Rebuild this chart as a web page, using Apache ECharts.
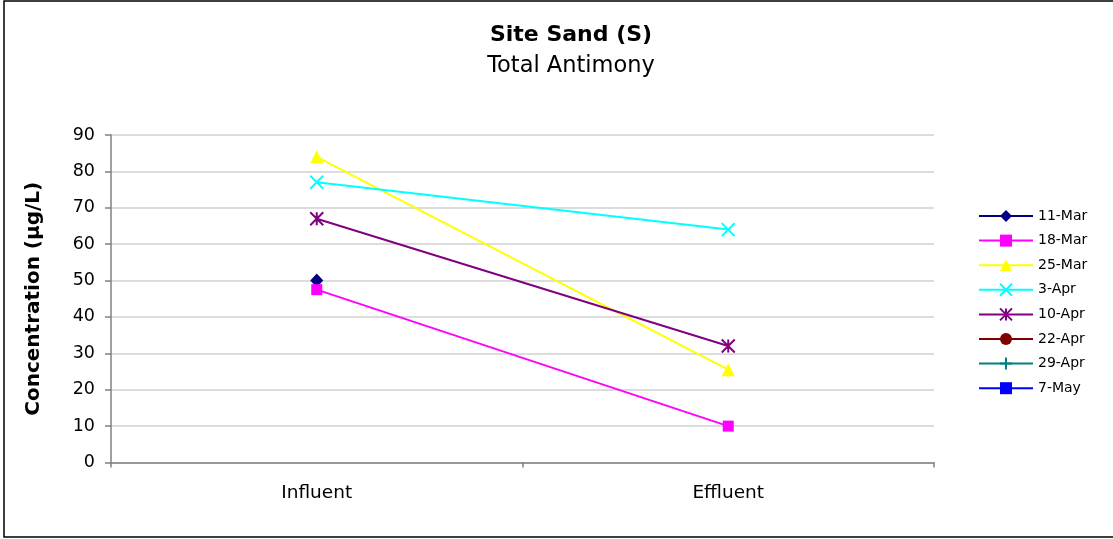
<!DOCTYPE html>
<html>
<head>
<meta charset="utf-8">
<script src="https://cdn.jsdelivr.net/npm/echarts@6/dist/echarts.min.js"></script>
<style>
html,body{margin:0;padding:0;background:#fff;}
#c{width:1113px;height:539px;}
</style>
</head>
<body>
<div id="c"></div>
<script>
const categories = ['Influent', 'Effluent'];
const seriesNames = ['11-Mar', '18-Mar', '25-Mar', '3-Apr', '10-Apr', '22-Apr', '29-Apr', '7-May'];
const mar11 = [50, null];
const mar18 = [47.5, 10];
const mar25 = [84, 25.5];
const apr3 = [77, 64];
const apr10 = [67, 32];
const apr22 = [null, null];
const apr29 = [null, null];
const may7 = [null, null];
const yTicks = [0, 10, 20, 30, 40, 50, 60, 70, 80, 90];

const values = [mar11, mar18, mar25, apr3, apr10, apr22, apr29, may7];
const colors = ['#000080', '#FF00FF', '#FFFF00', '#00FFFF', '#800080', '#800000', '#008080', '#0000FF'];
const X_PATH = 'path://M0 0L10 10M10 0L0 10';
const AST_PATH = 'path://M0 0L10 10M10 0L0 10M5 0L5 10';
const PLUS_PATH = 'path://M5 0L5 10M0 5L10 5';
const symbols = ['diamond', 'rect', 'triangle', X_PATH, AST_PATH, 'circle', PLUS_PATH, 'rect'];
const sizes = [[13, 14], 11, 13, 13, 13, 12, 13, [8, 4]];
const stroked = [false, false, false, true, true, false, true, false];
const FONT = 'DejaVu Sans';

const series = seriesNames.map((n, i) => ({
  name: n,
  type: 'line',
  data: values[i],
  symbol: symbols[i],
  symbolSize: sizes[i],
  showAllSymbol: true,
  connectNulls: false,
  lineStyle: { color: colors[i], width: 2 },
  itemStyle: stroked[i]
    ? { color: colors[i], borderColor: colors[i], borderWidth: 2 }
    : { color: colors[i], borderWidth: 0 },
  emphasis: { disabled: true },
  animation: false
}));

const chart = echarts.init(document.getElementById('c'), null, { renderer: 'canvas' });
chart.setOption({
  backgroundColor: '#fff',
  animation: false,
  title: [
    { text: 'Site Sand (S)', left: 566, top: 19, textAlign: 'center',
      textStyle: { fontFamily: FONT, fontWeight: 'bold', fontSize: 22, color: '#000' } },
    { text: 'Total Antimony', left: 566, top: 50, textAlign: 'center',
      textStyle: { fontFamily: FONT, fontWeight: 'normal', fontSize: 22.5, color: '#000' } }
  ],
  graphic: [
    { type: 'rect', shape: { x: 4, y: 1, width: 1130, height: 536 },
      style: { fill: 'none', stroke: '#000', lineWidth: 1.5 }, silent: true }
  ],
  legend: {
    orient: 'vertical',
    left: 978,
    top: 209,
    padding: 0,
    itemWidth: 54,
    itemHeight: 15,
    itemGap: 10.6,
    data: seriesNames,
    lineStyle: { width: 2 },
    textStyle: { fontFamily: FONT, fontSize: 14, color: '#000' }
  },
  grid: { left: 111, right: 179, top: 135, bottom: 76.5, containLabel: false },
  xAxis: {
    type: 'category',
    data: categories,
    boundaryGap: true,
    axisLine: { lineStyle: { color: '#808080', width: 1.5 } },
    axisTick: { show: true, length: 5, lineStyle: { color: '#808080', width: 1.5 } },
    axisLabel: { fontFamily: FONT, fontSize: 18.5, color: '#000', margin: 21 },
    splitLine: { show: false }
  },
  yAxis: {
    type: 'value',
    min: 0,
    max: 90,
    interval: 10,
    name: 'Concentration (µg/L)',
    nameLocation: 'middle',
    nameGap: 67,
    nameTextStyle: { fontFamily: FONT, fontWeight: 'bold', fontSize: 20, color: '#000' },
    axisLine: { show: true, lineStyle: { color: '#808080', width: 1.5 } },
    axisTick: { show: true, length: 6, lineStyle: { color: '#808080', width: 1.5 } },
    axisLabel: { fontFamily: FONT, fontSize: 17.5, color: '#000', margin: 16,
      formatter: v => yTicks.includes(v) ? String(v) : '' },
    splitLine: { show: true, lineStyle: { color: '#d0d0d0', width: 1.5 } }
  },
  series: series
});
</script>
</body>
</html>
